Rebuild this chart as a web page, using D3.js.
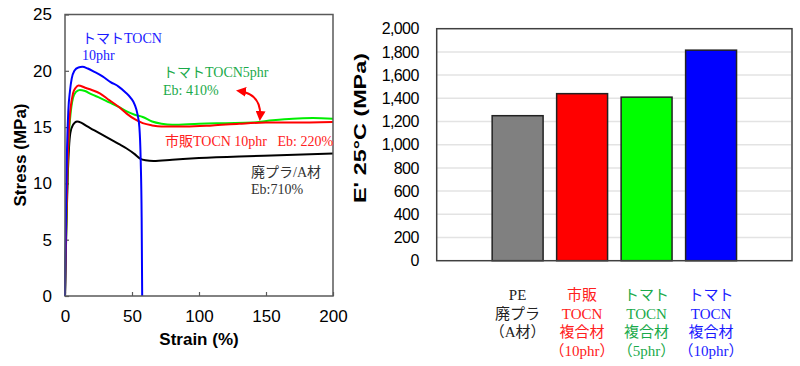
<!DOCTYPE html>
<html>
<head>
<meta charset="utf-8">
<script src="https://cdn.jsdelivr.net/npm/d3@7"></script>
<style>
  body { margin: 0; background: #fff; }
  svg { display: block; }
</style>
</head>
<body>
<svg width="800" height="366"></svg>
<script>
// stress-strain curves, [strain %, stress MPa]
var tomato10 = [[0,0],[0.8,8],[1.5,13],[2.5,16.5],[3.7,18.2],[5,19.3],[7,20],[10,20.3],[13,20.35],[17,20.2],[22,19.9],[28,19.5],[34,19.0],[40,18.6],[45,18.1],[49,17.6],[52,17.0],[54,16.2],[55.5,15],[56.5,12],[57.2,7],[57.6,0]];
var tomato5 = [[0,0],[1,6.5],[2,11.5],[3,14.5],[4,16],[6,17.6],[8,18.1],[11,18.3],[15,18.2],[20,17.9],[26,17.6],[33,17.2],[40,16.8],[46,16.4],[52,16.1],[58,15.9],[65,15.5],[72,15.3],[80,15.2],[100,15.3],[120,15.35],[140,15.4],[155,15.6],[170,15.75],[185,15.8],[200,15.75]];
var commercial10 = [[0,0],[1,7],[2,12],[3,15],[4,16.5],[6,18],[8,18.5],[10,18.7],[15,18.5],[20,18.3],[26,18.0],[33,17.4],[40,16.8],[46,16.2],[52,15.7],[58,15.35],[65,15.15],[72,15.05],[90,15.05],[110,15.15],[130,15.3],[150,15.4],[170,15.4],[200,15.45]];
var wastePE = [[0,0],[1,6],[2,10.5],[3,13.2],[4,14.5],[6,15.2],[9,15.5],[12,15.4],[16,15.1],[22,14.7],[28,14.3],[34,13.9],[40,13.5],[46,13.1],[52,12.6],[56,12.2],[60,12.05],[66,12.0],[80,12.1],[100,12.25],[130,12.4],[160,12.5],[200,12.65]];

var curveData = [wastePE, tomato5, commercial10, tomato10];
var curveColors = ["#000000", "#00ee00", "#ff0000", "#0000ff"];

var strainTicks = [0, 50, 100, 150, 200];
var stressTicks = [0, 5, 10, 15, 20, 25];

// storage modulus bars
var categories = ["PE", "市販10", "トマト5", "トマト10"];
var modulus = [1250, 1440, 1410, 1815];
var barColors = ["#808080", "#ff0000", "#00ff00", "#0000ff"];
var catLines = [["PE", "廃プラ", "（A材）"], ["市販", "TOCN", "複合材", "（10phr）"], ["トマト", "TOCN", "複合材", "（5phr）"], ["トマト", "TOCN", "複合材", "（10phr）"]];
var catColors = ["#222222", "#ff2020", "#1aaa4a", "#1a1aff"];
var modulusTicks = [0, 200, 400, 600, 800, 1000, 1200, 1400, 1600, 1800, 2000];

var svg = d3.select("svg");
var sansFont = "'Liberation Sans', Arial, sans-serif";
var serifFont = "'Liberation Serif', 'Noto Sans CJK JP', serif";

// ---------- left chart ----------
var x = d3.scaleLinear().domain([0, 200]).range([65, 333]);
var y = d3.scaleLinear().domain([0, 25]).range([296, 14.5]);

var xAxis = d3.axisBottom(x).tickValues(strainTicks).tickSizeInner(-4).tickSizeOuter(0).tickPadding(14);
var yAxis = d3.axisLeft(y).tickValues(stressTicks).tickSizeInner(-4).tickSizeOuter(0).tickPadding(13);

var gx = svg.append("g").attr("transform", "translate(0,296)").call(xAxis);
var gy = svg.append("g").attr("transform", "translate(65,0)").call(yAxis);
[gx, gy].forEach(function(g) {
  g.select(".domain").remove();
  g.selectAll("line").attr("stroke", "#595959").attr("stroke-width", 1.2);
  g.selectAll("text").attr("font-family", sansFont).attr("font-size", 17).attr("fill", "#000");
});

var line = d3.line()
  .x(d => x(d[0]))
  .y(d => y(d[1]))
  .curve(d3.curveMonotoneX);

svg.append("g").selectAll("path")
  .data(curveData)
  .enter()
  .append("path")
  .attr("d", line)
  .attr("fill", "none")
  .attr("stroke", (d, i) => curveColors[i])
  .attr("stroke-width", 2);

svg.append("rect")
  .attr("x", x(0)).attr("y", y(25))
  .attr("width", x(200) - x(0)).attr("height", y(0) - y(25))
  .attr("fill", "none").attr("stroke", "#595959").attr("stroke-width", 1.5);

svg.append("text")
  .attr("x", 199).attr("y", 345)
  .attr("text-anchor", "middle")
  .attr("font-family", sansFont).attr("font-size", 17).attr("font-weight", "bold")
  .text("Strain (%)");

svg.append("text")
  .attr("transform", "translate(26,155) rotate(-90)")
  .attr("text-anchor", "middle")
  .attr("font-family", sansFont).attr("font-size", 17).attr("font-weight", "bold")
  .text("Stress (MPa)");

// annotations
var notes = [
  {t: "トマトTOCN", x: 82, y: 43, c: "#1a1aff"},
  {t: "10phr", x: 82, y: 60, c: "#1a1aff"},
  {t: "トマトTOCN5phr", x: 163, y: 77, c: "#1aaa4a"},
  {t: "Eb: 410%", x: 163, y: 95, c: "#1aaa4a"},
  {t: "市販TOCN 10phr\u00a0\u00a0 Eb: 220%", x: 165, y: 146, c: "#ff2020"},
  {t: "廃プラ/A材", x: 251, y: 177, c: "#333333"},
  {t: "Eb:710%", x: 251, y: 194, c: "#333333"}
];
svg.append("g").selectAll("text")
  .data(notes)
  .enter()
  .append("text")
  .attr("x", d => d.x).attr("y", d => d.y)
  .attr("fill", d => d.c)
  .attr("font-family", serifFont).attr("font-size", 14)
  .text(d => d.t);

svg.append("defs").append("marker")
  .attr("id", "arr")
  .attr("viewBox", "0 0 10 10")
  .attr("refX", 7).attr("refY", 5)
  .attr("markerWidth", 5).attr("markerHeight", 5)
  .attr("orient", "auto-start-reverse")
  .append("path").attr("d", "M0,0L10,5L0,10z").attr("fill", "#ff0000");

svg.append("path")
  .attr("d", "M239,91 Q262,94 260,118")
  .attr("fill", "none").attr("stroke", "#ff0000").attr("stroke-width", 2)
  .attr("marker-start", "url(#arr)").attr("marker-end", "url(#arr)");

// ---------- right chart ----------
var x2 = d3.scaleBand().domain(categories).range([436.7, 792]).paddingInner(0.21).paddingOuter(0.86);
var y2 = d3.scaleLinear().domain([0, 2000]).range([260.7, 28.7]);

svg.append("g").selectAll("line")
  .data(modulusTicks.slice(1, -1))
  .enter()
  .append("line")
  .attr("x1", 437).attr("x2", 791)
  .attr("y1", d => y2(d)).attr("y2", d => y2(d))
  .attr("stroke", "#e3e3e3").attr("stroke-width", 1.5);

svg.append("g").selectAll("rect")
  .data(modulus)
  .enter()
  .append("rect")
  .attr("x", (d, i) => x2(categories[i]))
  .attr("y", d => y2(d))
  .attr("width", x2.bandwidth())
  .attr("height", d => y2(0) - y2(d))
  .attr("fill", (d, i) => barColors[i])
  .attr("stroke", "#222").attr("stroke-width", 1.5);

svg.append("rect")
  .attr("x", 436.7).attr("y", 28.7)
  .attr("width", 792 - 436.7).attr("height", 260.7 - 28.7)
  .attr("fill", "none").attr("stroke", "#404040").attr("stroke-width", 1.5);

var y2Axis = d3.axisLeft(y2).tickValues(modulusTicks).tickFormat(d3.format(",")).tickSize(0).tickPadding(18);
var gy2 = svg.append("g").attr("transform", "translate(436.7,0)").call(y2Axis);
gy2.select(".domain").remove();
gy2.selectAll("text").attr("font-family", sansFont).attr("font-size", 16).attr("letter-spacing", -0.6).attr("fill", "#000");

svg.append("text")
  .attr("transform", "translate(366,128) rotate(-90)")
  .attr("text-anchor", "middle")
  .attr("font-family", sansFont).attr("font-size", 17).attr("font-weight", "bold")
  .attr("textLength", 150).attr("lengthAdjust", "spacingAndGlyphs")
  .text("E' 25°C (MPa)");

var cat = svg.append("g").selectAll("text")
  .data(catLines)
  .enter()
  .append("text")
  .attr("text-anchor", "middle")
  .attr("font-family", serifFont).attr("font-size", 15)
  .attr("fill", (d, i) => catColors[i]);

cat.selectAll("tspan")
  .data((d, i) => d.map(s => ({s: s, i: i})))
  .enter()
  .append("tspan")
  .attr("x", d => x2(categories[d.i]) + x2.bandwidth() / 2)
  .attr("y", (d, j) => 300 + j * 18.5)
  .text(d => d.s);
</script>
</body>
</html>
